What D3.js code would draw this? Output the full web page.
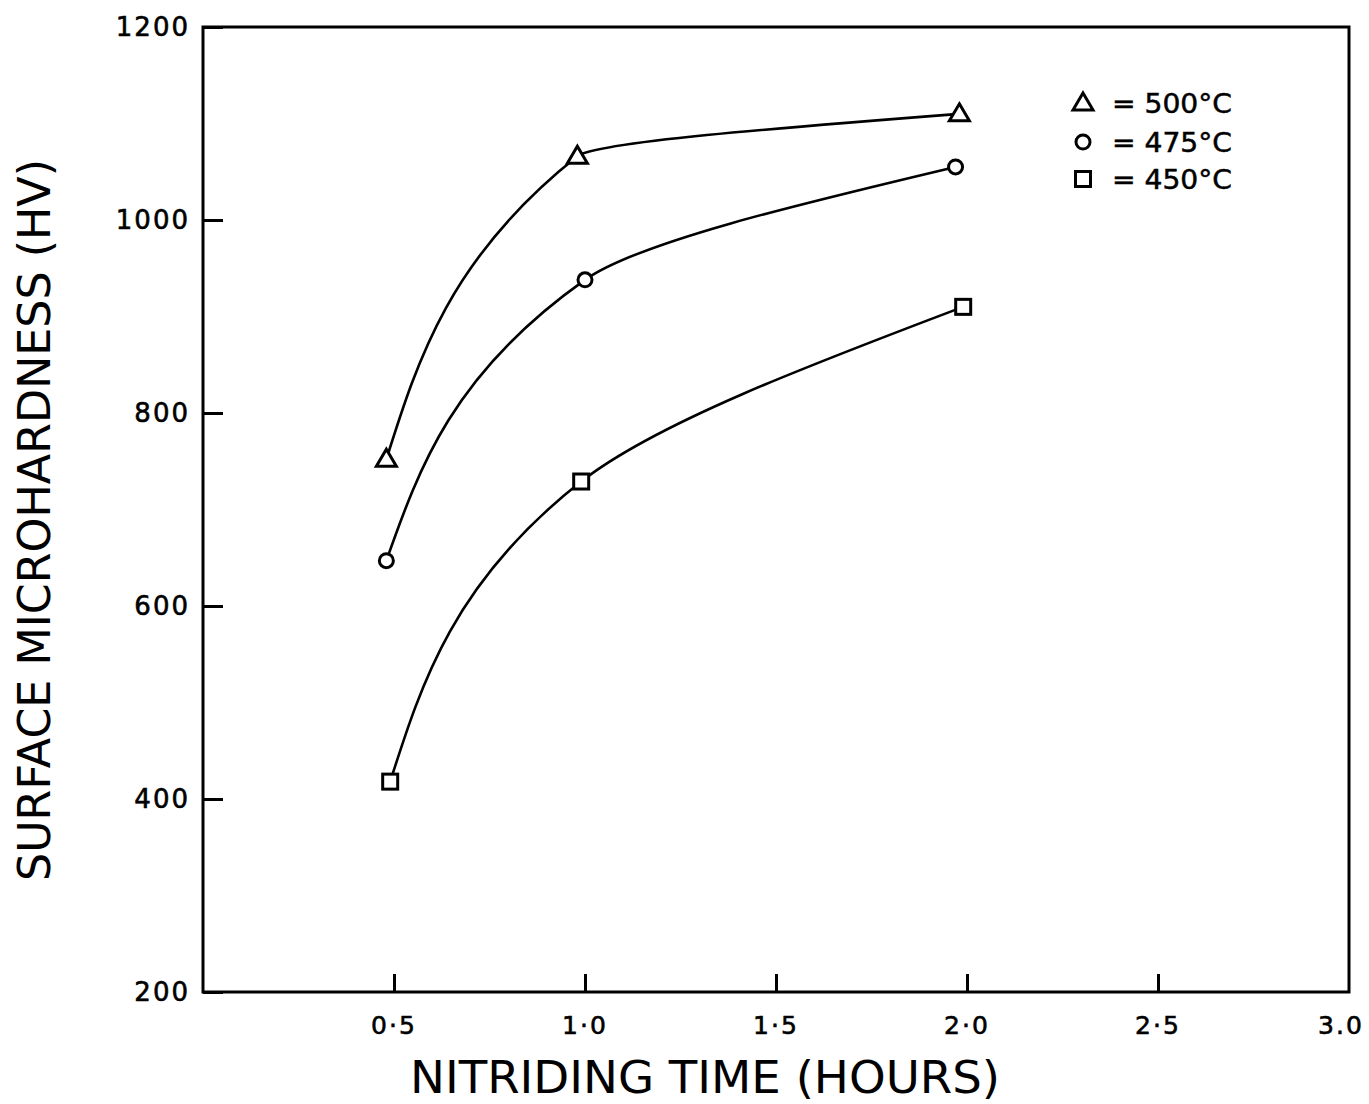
<!DOCTYPE html>
<html>
<head>
<meta charset="utf-8">
<script src="https://cdn.jsdelivr.net/npm/d3@7"></script>
<style>
  html, body { margin: 0; padding: 0; background: #fff; }
  svg { display: block; }
  text { font-family: "DejaVu Sans", "Liberation Sans", sans-serif; fill: #000; }
</style>
</head>
<body>
<svg id="chart" width="1369" height="1104"></svg>
<script>
// Surface microhardness vs nitriding time, three nitriding temperatures
const series = [
  { name: "500", symbol: "triangle" },
  { name: "475", symbol: "circle" },
  { name: "450", symbol: "square" }
];
const hours500 = [0.48, 0.98, 1.98];
const hv500    = [752, 1066, 1110];
const hours475 = [0.48, 1.00, 1.97];
const hv475    = [647, 938, 1055];
const hours450 = [0.49, 0.99, 1.99];
const hv450    = [418, 729, 910];

const xTicks = [0.5, 1.0, 1.5, 2.0, 2.5, 3.0];
const xTickLabels = ["0·5", "1·0", "1·5", "2·0", "2·5", "3.0"];
const yTicks = [200, 400, 600, 800, 1000, 1200];
const legendLabels = ["= 500°C", "= 475°C", "= 450°C"];

const data = [
  d3.zip(hours500, hv500),
  d3.zip(hours475, hv475),
  d3.zip(hours450, hv450)
];

const svg = d3.select("#chart");
const x = d3.scaleLinear().domain([0, 3]).range([203, 1349]);
const y = d3.scaleLinear().domain([200, 1200]).range([992, 27]);

// frame
svg.append("rect")
  .attr("x", x(0)).attr("y", y(1200))
  .attr("width", x(3) - x(0)).attr("height", y(200) - y(1200))
  .attr("fill", "none").attr("stroke", "#000").attr("stroke-width", 3);

// y axis: ticks pointing into the plot
const yAxis = d3.axisRight(y).tickValues(yTicks).tickSize(20).tickFormat("");
svg.append("g").attr("transform", `translate(${x(0)},0)`).call(yAxis)
  .call(g => g.select(".domain").remove())
  .call(g => g.selectAll("line").attr("stroke-width", 3));
svg.append("g").selectAll("text").data(yTicks).join("text")
  .attr("x", 190).attr("y", d => y(d) + 9)
  .attr("text-anchor", "end")
  .attr("font-size", 26)
  .attr("letter-spacing", 2)
  .attr("stroke", "#000").attr("stroke-width", 0.6)
  .text(d => d);

// x axis: ticks pointing up
const xAxis = d3.axisTop(x).tickValues(xTicks.slice(0, 5)).tickSize(18).tickFormat("");
svg.append("g").attr("transform", `translate(0,${y(200)})`).call(xAxis)
  .call(g => g.select(".domain").remove())
  .call(g => g.selectAll("line").attr("stroke-width", 3));
svg.append("g").selectAll("text").data(xTicks).join("text")
  .attr("x", (d, i) => x(d) + (i === 5 ? -8 : 0)).attr("y", 1034)
  .attr("text-anchor", "middle")
  .attr("font-size", 25)
  .attr("letter-spacing", 2)
  .attr("stroke", "#000").attr("stroke-width", 0.6)
  .text((d, i) => xTickLabels[i]);

// axis titles
svg.append("text")
  .attr("x", 705).attr("y", 1093)
  .attr("text-anchor", "middle")
  .attr("font-size", 44)
  .attr("textLength", 590).attr("lengthAdjust", "spacingAndGlyphs")
  .text("NITRIDING TIME (HOURS)");
svg.append("text")
  .attr("transform", "translate(50,520) rotate(-90)")
  .attr("text-anchor", "middle")
  .attr("font-size", 45)
  .attr("textLength", 722).attr("lengthAdjust", "spacingAndGlyphs")
  .text("SURFACE MICROHARDNESS (HV)");

// curves: hardness taken as the monotone variable so each rise starts steep
const line = d3.line().x(d => x(d[0])).y(d => y(d[1])).curve(d3.curveMonotoneY);
svg.append("g").selectAll("path").data(data).join("path")
  .attr("d", line)
  .attr("fill", "none").attr("stroke", "#000").attr("stroke-width", 2.6);

// markers
function drawMarker(g, kind, cx, cy) {
  let m;
  if (kind === "triangle") {
    m = g.append("path").attr("d", `M${cx},${cy - 10} L${cx + 10},${cy + 7} L${cx - 10},${cy + 7} Z`);
  } else if (kind === "circle") {
    m = g.append("circle").attr("cx", cx).attr("cy", cy).attr("r", 7);
  } else {
    m = g.append("rect").attr("x", cx - 7.5).attr("y", cy - 7.5).attr("width", 15).attr("height", 15);
  }
  m.attr("fill", "#fff").attr("stroke", "#000").attr("stroke-width", 3);
}
const markers = svg.append("g");
data.forEach((pts, i) => {
  pts.forEach(p => drawMarker(markers, series[i].symbol, x(p[0]), y(p[1])));
});

// legend
const legend = svg.append("g");
const legendRows = [103, 142, 179];
series.forEach((s, i) => {
  drawMarker(legend, s.symbol, 1083, legendRows[i]);
  legend.append("text")
    .attr("x", 1112).attr("y", legendRows[i] + 10)
    .attr("font-size", 27)
    .attr("textLength", 120).attr("lengthAdjust", "spacingAndGlyphs")
    .attr("stroke", "#000").attr("stroke-width", 0.5)
    .text(legendLabels[i]);
});
</script>
</body>
</html>
